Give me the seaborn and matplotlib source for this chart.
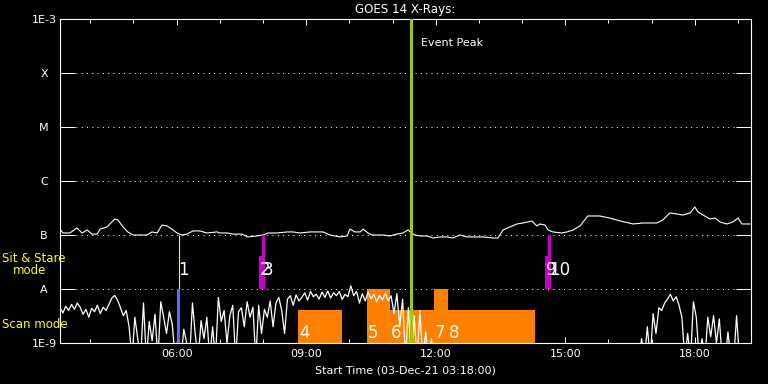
import numpy as np
import pandas as pd
import seaborn as sns
import matplotlib.pyplot as plt
from matplotlib.ticker import FixedLocator, MultipleLocator, FuncFormatter, NullLocator

# time axis: hours of 03-Dec-21
t_start = 3.3
t_end = 19.3
peak_time = 11.43

# GOES long channel (1-8 A), units of 1e-7 W/m^2
long_hours = [3.30, 3.37, 3.53, 3.69, 3.81, 3.93, 4.04, 4.16, 4.23, 4.39, 4.50, 4.57, 4.64, 4.76,
              4.87, 4.99, 5.31, 5.43, 5.55, 5.66, 5.78, 5.89, 6.01, 6.12, 6.24, 6.38, 6.54, 6.70,
              6.94, 7.00, 7.17, 7.31, 7.51, 7.65, 7.86, 8.00, 8.12, 8.32, 8.56, 8.69, 8.86, 9.09,
              9.39, 9.55, 9.78, 9.95, 10.01, 10.13, 10.25, 10.32, 10.43, 10.52, 10.78, 10.94, 11.10,
              11.24, 11.36, 11.43, 11.52, 11.64, 11.80, 11.94, 12.10, 12.26, 12.40, 12.56, 12.72,
              12.86, 13.09, 13.33, 13.44, 13.56, 13.72, 13.88, 14.02, 14.23, 14.34, 14.41, 14.53,
              14.60, 14.71, 14.92, 15.04, 15.18, 15.34, 15.52, 15.80, 16.03, 16.27, 16.57, 16.80,
              17.12, 17.26, 17.42, 17.59, 17.72, 17.89, 18.00, 18.07, 18.19, 18.35, 18.47, 18.58,
              18.74, 18.88, 19.00, 19.09, 19.28]
long_flux = [1.29, 1.09, 1.09, 1.35, 1.09, 1.24, 1.04, 1.04, 1.29, 1.41, 1.74, 1.98, 1.90, 1.41,
             1.14, 1.00, 1.00, 1.14, 1.09, 1.53, 1.47, 1.29, 1.09, 1.00, 1.04, 1.19, 1.19, 1.09,
             1.14, 1.09, 1.09, 1.04, 1.04, 0.92, 0.96, 1.00, 1.09, 1.09, 1.14, 1.14, 1.09, 1.14,
             1.14, 1.00, 0.92, 0.96, 1.29, 1.14, 1.14, 1.29, 1.09, 1.00, 1.00, 0.96, 1.04,
             1.09, 1.24, 1.09, 1.00, 0.96, 0.96, 0.88, 0.92, 0.92, 0.88, 1.00, 0.92,
             0.92, 0.92, 0.88, 0.88, 1.24, 1.41, 1.60, 1.67, 1.82, 1.47, 1.60, 1.53,
             1.24, 1.14, 1.09, 1.14, 1.24, 1.47, 2.25, 2.25, 2.06, 1.82, 1.60, 1.67,
             1.67, 1.90, 2.56, 2.45, 2.34, 2.56, 3.30, 2.67, 2.34, 1.98, 2.06, 1.74,
             1.60, 1.74, 2.06, 1.60, 1.60]

# GOES short channel (0.5-4 A), units of 1e-9 W/m^2, 4 minute cadence
short_step = 4 / 60
short_a_start = 3.3
short_a = [4.5, 3.6, 4.8, 4.0, 5.2, 4.2, 5.5, 4.6, 3.4, 4.2, 3.0, 4.4, 3.8, 5.0, 3.5, 4.6, 4.0, 5.2,
           6.8, 7.6, 6.2, 4.5, 3.2, 4.0, 2.0, 0.5, 3.0, 1.2, 0.5, 5.5, 0.5, 2.5, 1.1, 3.4, 0.5, 5.8,
           3.0, 1.5, 3.8, 2.2, 0.5, 1.3, 0.5, 1.8, 1.0, 0.5, 5.5, 1.4, 0.5, 2.6, 1.2, 3.0, 0.5, 2.0,
           0.5, 7.0, 2.5, 4.0, 1.0, 3.2, 5.0, 0.5, 3.8, 4.5, 2.0, 5.8, 3.0, 4.6, 0.5, 5.0, 1.5, 4.2,
           3.0, 6.0, 2.0, 5.5, 7.0, 4.0, 1.5, 6.5, 7.5, 5.0, 7.8, 6.0, 7.0, 8.5, 6.2, 9.0, 7.2, 8.0,
           6.5, 8.8, 7.0, 9.2, 6.8, 8.5, 7.5, 9.0, 6.4, 8.0, 7.2, 11.5, 7.5, 9.0, 5.5, 8.2, 6.0, 8.8,
           6.5, 8.0, 5.8, 7.6, 6.2, 8.4, 6.0, 7.5, 3.5, 8.2, 2.0, 6.5, 0.5, 4.5, 0.5, 3.2, 0.5, 4.0,
           0.5, 1.6, 0.5, 1.2, 0.5]
short_b_start = 16.7
short_b = [0.5, 1.2, 0.5, 2.0, 0.5, 3.5, 1.5, 4.5, 4.0, 5.5, 6.5, 8.0, 6.0, 7.2, 5.0, 3.0, 0.5, 1.5,
           0.5, 5.8, 3.0, 0.5, 1.2, 0.5, 3.0, 1.3, 3.2, 1.0, 2.8, 0.5, 0.5, 1.6, 0.5, 0.5, 3.2, 0.5,
           0.5]

levels = [1e-9, 1e-8, 1e-7, 1e-6, 1e-5, 1e-4, 1e-3]
level_labels = ['1E-9', 'A', 'B', 'C', 'M', 'X', '1E-3']

# observation 1 (sit & stare marker + short scan)
obs1_time = 6.055
obs1_start = 6.01
obs1_end = 6.08

# sit & stare observations
stare_ids = ['2', '3', '9', '10']
stare_start = [7.91, 7.98, 14.53, 14.60]
stare_end = [7.98, 8.05, 14.60, 14.67]
stare_top = [4.1e-8, 1e-7, 4.1e-8, 1e-7]

# scan mode observations
scan_ids = ['4', '5', '6', '7', '8']
scan_start = [8.81, 10.41, 10.94, 11.96, 12.28]
scan_end = [9.83, 10.94, 11.96, 12.28, 14.30]
scan_top = [4.1e-9, 1e-8, 4.1e-9, 1e-8, 4.1e-9]

sns.set_style('ticks')
plt.rcParams['font.family'] = ['DejaVu Sans']
plt.rcParams['axes.facecolor'] = 'black'
plt.rcParams['figure.facecolor'] = 'black'

long_df = pd.DataFrame({'hour': long_hours, 'flux': np.array(long_flux) * 1e-7})
short_a_df = pd.DataFrame({'hour': short_a_start + np.arange(len(short_a)) * short_step,
                           'flux': np.array(short_a) * 1e-9})
short_b_df = pd.DataFrame({'hour': short_b_start + np.arange(len(short_b)) * short_step,
                           'flux': np.array(short_b) * 1e-9})

fig = plt.figure(figsize=(7.68, 3.84), dpi=100)
ax = fig.add_axes([60 / 768, 41 / 384, 691 / 768, 324 / 384])
ax.set_yscale('log')

# scan mode blocks
ax.bar(scan_start, np.array(scan_top) - 1e-9, width=np.array(scan_end) - np.array(scan_start),
       bottom=1e-9, align='edge', color='#ff8000', linewidth=0, zorder=1)

# dotted level lines
for lev in levels[1:-1]:
    ax.axhline(lev, color='white', lw=0.72, ls=(0, (1, 4.3)), zorder=0.5)

sns.lineplot(data=long_df, x='hour', y='flux', color='white', linewidth=0.8, ax=ax, zorder=2)
sns.lineplot(data=short_a_df, x='hour', y='flux', color='white', linewidth=0.9, ax=ax, zorder=2)
sns.lineplot(data=short_b_df, x='hour', y='flux', color='white', linewidth=0.9, ax=ax, zorder=2)

# sit & stare bars
ax.bar(stare_start, np.array(stare_top) - 1e-8, width=np.array(stare_end) - np.array(stare_start),
       bottom=1e-8, align='edge', color='#c800c8', linewidth=0, zorder=3)
ax.vlines(obs1_time, 1e-8, 1e-7, color='yellow', lw=0.8, zorder=3)
ax.bar([obs1_start], [1e-8 - 1e-9], width=obs1_end - obs1_start, bottom=1e-9, align='edge',
       color='#6464ff', linewidth=0, zorder=3)

ax.axvline(peak_time, color='#a0c800', lw=2.2, zorder=4)
ax.annotate('Event Peak', (peak_time, 3.6e-4), xytext=(10, 0), textcoords='offset pixels',
            color='white', fontsize=8, va='center', ha='left')

# observation numbers
ax.annotate('1', (obs1_start, 2.25e-8), xytext=(1, 0), textcoords='offset pixels',
            color='white', fontsize=12, va='center', ha='left', zorder=6)
for lbl, x in zip(stare_ids, stare_start):
    ax.annotate(lbl, (x, 2.25e-8), xytext=(1, 0), textcoords='offset pixels',
                color='white', fontsize=12, va='center', ha='left', zorder=6)
for lbl, x in zip(scan_ids, scan_start):
    ax.annotate(lbl, (x, 1.53e-9), xytext=(1, 0), textcoords='offset pixels',
                color='white', fontsize=12, va='center', ha='left', zorder=6)

ax.set_xlim(t_start, t_end)
ax.set_ylim(1e-9, 1e-3)

ax.set_yticks(levels)
ax.set_yticklabels(level_labels)
ax.yaxis.set_minor_locator(NullLocator())
for lbl in ax.get_yticklabels():
    lbl.set_ha('center')
ax.tick_params(axis='y', which='major', direction='in', length=10.8, width=0.72, right=True,
               colors='white', labelsize=8, pad=11.5)

ax.xaxis.set_major_locator(FixedLocator([6, 9, 12, 15, 18]))
ax.xaxis.set_minor_locator(MultipleLocator(1))
ax.xaxis.set_major_formatter(FuncFormatter(lambda v, p: f'{int(round(v)):02d}:00'))
ax.tick_params(axis='x', which='major', direction='in', length=4.3, width=0.72, top=True,
               colors='white', labelsize=8, pad=4)
ax.tick_params(axis='x', which='minor', direction='in', length=2.9, width=0.72, top=True,
               colors='white')

for side in ['left', 'right', 'top', 'bottom']:
    ax.spines[side].set_color('white')
    ax.spines[side].set_linewidth(0.8)

ax.set_xlabel('Start Time (03-Dec-21 03:18:00)', color='white', fontsize=8, labelpad=5)
ax.set_ylabel('')
ax.set_title('GOES 14 X-Rays:', color='white', fontsize=8.6, pad=4)

fig.text(2 / 768, 1 - 259 / 384, 'Sit & Stare', color='yellow', fontsize=8.5, va='center', ha='left')
fig.text(13 / 768, 1 - 271 / 384, 'mode', color='yellow', fontsize=8.5, va='center', ha='left')
fig.text(2 / 768, 1 - 324 / 384, 'Scan mode', color='yellow', fontsize=8.5, va='center', ha='left')

fig.savefig('out.png', dpi=100, facecolor='black')
